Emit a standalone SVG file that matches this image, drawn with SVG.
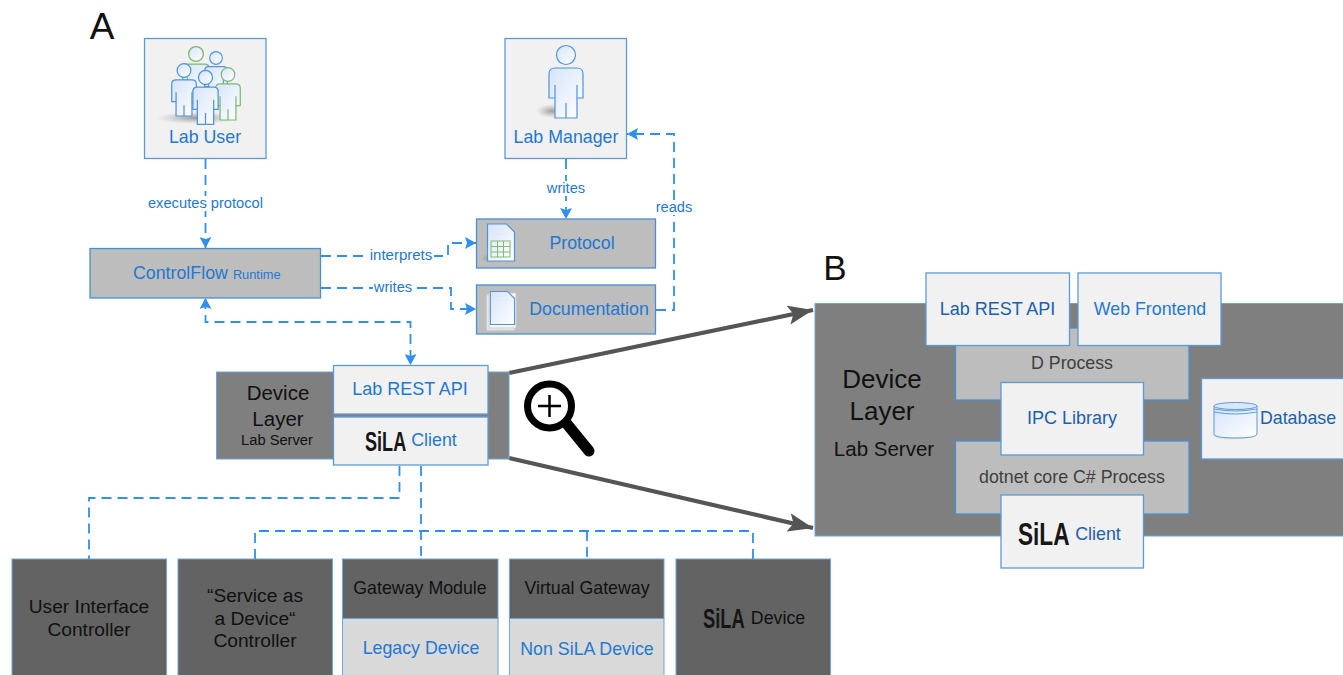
<svg xmlns="http://www.w3.org/2000/svg" width="1343" height="675" viewBox="0 0 1343 675">
<style>
text{font-family:"Liberation Sans",Arial,sans-serif;text-anchor:middle}
.lt{fill:#f1f1f1;stroke:#5b9bd5;stroke-width:1.3}
.mg{fill:#bdbdbd;stroke:#4a90d0;stroke-width:1.3}
.dk{fill:#7f7f7f;stroke:#6aa5de;stroke-width:1}
.ds{fill:#636363;stroke:#6aa5de;stroke-width:1}
.pl{fill:#d9d9d9;stroke:#6aa5de;stroke-width:1}
.b{fill:#1f78d1}.db{fill:#1a5fb0}.k{fill:#111}.g{fill:#3f3f3f}
.cl{fill:#fff;stroke:none}
.c{fill:none;stroke:#2f8fee;stroke-width:1.8;stroke-dasharray:10 6}
.z{fill:none;stroke:#555;stroke-width:4.2}
.sila{font-weight:700;fill:#161616;text-anchor:start}
.pb{fill:url(#pg);stroke:#4f94dc;stroke-width:1.7}
.pn{fill:url(#pg);stroke:#7cb870;stroke-width:1.7}
.pm{fill:url(#pg);stroke:#4f94dc;stroke-width:1.2}
</style>
<defs>
<linearGradient id="pg" x1="0" y1="0" x2="1" y2="1"><stop offset="0" stop-color="#d6e4fa"/><stop offset="1" stop-color="#fff"/></linearGradient>
<radialGradient id="sh"><stop offset="0" stop-color="#777" stop-opacity=".7"/><stop offset="1" stop-color="#999" stop-opacity="0"/></radialGradient>
<marker id="a" markerUnits="userSpaceOnUse" markerWidth="12" markerHeight="12" refX="11" refY="6" orient="auto"><path d="M0 0L11 6L0 12L2 6Z" fill="#2f8fee"/></marker>
<marker id="as" markerUnits="userSpaceOnUse" markerWidth="12" markerHeight="12" refX="1" refY="6" orient="auto"><path d="M11 0L0 6L11 12L9 6Z" fill="#2f8fee"/></marker>
<marker id="z" markerUnits="userSpaceOnUse" markerWidth="26" markerHeight="20" refX="25" refY="10" orient="auto"><path d="M0 0.500L25 10L0 19.500L5 10Z" fill="#555"/></marker>
<symbol id="person" viewBox="0 0 36 74" overflow="visible"><circle cx="18" cy="10" r="9.500"/><path d="M7 23H29Q35 23 35 29V53H29V73H7V53H1V29Q1 23 7 23Z"/><path d="M7 40V53M29 40V53M18 58V73" fill="none"/></symbol>
<symbol id="doc" viewBox="0 0 28 38" overflow="visible"><path d="M1 1H20L28 9V38H1Z" fill="url(#pg)" stroke="#4f94dc" stroke-width="1.2"/><path d="M5 7H16M5 11H20" stroke="#dfe8f5" fill="none"/></symbol>
</defs>
<rect width="1343" height="675" fill="#fff"/>

<text x="102" y="39" font-size="37" class="k">A</text>
<text x="835" y="280" font-size="35" class="k">B</text>

<g id="connectors">
<path class="c" d="M205.500 159V248" marker-end="url(#a)"/>
<path class="c" d="M566 159V219" marker-end="url(#a)"/>
<path class="c" d="M321 256H448V243H476" marker-end="url(#a)"/>
<path class="c" d="M321 288H451V309H476" marker-end="url(#a)"/>
<path class="c" d="M656 310H674V134H627" marker-end="url(#a)"/>
<path class="c" d="M205.500 299V322H410.500V365" marker-start="url(#as)" marker-end="url(#a)"/>
<path class="c" d="M399.500 466V498H89V559"/>
<path class="c" d="M421 466V559"/>
<path class="c" d="M255 559V531H753V559"/>
<path class="c" d="M587 531V559"/>
<path class="z" d="M509 373L813 310" marker-end="url(#z)"/>
<path class="z" d="M509 458L813 528" marker-end="url(#z)"/>
</g>

<rect class="cl" x="146" y="196" width="119" height="15"/>
<text x="205.500" y="208" font-size="14.700" class="b">executes protocol</text>
<rect class="cl" x="545" y="181" width="42" height="15"/>
<text x="566" y="193" font-size="14.700" class="b">writes</text>
<rect class="cl" x="655" y="200" width="38" height="15"/>
<text x="674" y="212" font-size="14.700" class="b">reads</text>
<rect class="cl" x="369" y="248" width="65" height="15"/>
<text x="401" y="260" font-size="15" class="b">interprets</text>
<rect class="cl" x="373" y="280" width="40" height="15"/>
<text x="393" y="292" font-size="14.700" class="b">writes</text>

<g id="lab-user">
<rect class="lt" x="144.500" y="38.500" width="121.500" height="120"/>
<ellipse cx="196" cy="118" rx="40" ry="6" fill="url(#sh)"/>
<use href="#person" class="pn" x="182" y="46" width="28" height="58"/>
<use href="#person" class="pb" x="204" y="51" width="24" height="50"/>
<use href="#person" class="pn" x="215" y="67" width="26" height="54"/>
<use href="#person" class="pb" x="171" y="63" width="26" height="54"/>
<use href="#person" class="pb" x="192" y="70" width="27" height="55"/>
<text x="205" y="143" font-size="17.800" class="b">Lab User</text>
</g>

<g id="lab-manager">
<rect class="lt" x="505" y="38.500" width="121.500" height="120"/>
<ellipse cx="552" cy="111" rx="16" ry="7" fill="url(#sh)"/>
<use href="#person" class="pm" x="548" y="45" width="36" height="74"/>
<text x="566" y="143" font-size="17.800" class="b">Lab Manager</text>
</g>

<g id="protocol">
<rect class="mg" x="476.500" y="219" width="179" height="49"/>
<ellipse cx="490" cy="258" rx="9" ry="5" fill="url(#sh)"/>
<use href="#doc" x="486.500" y="223" width="28" height="38"/>
<g fill="none" stroke="#84b96e" stroke-width="1"><rect x="491" y="241" width="19" height="16"/><path d="M491 246.500H510M491 252H510M497.500 241V257M503.500 241V257"/></g>
<text x="582" y="249" font-size="17.800" class="b">Protocol</text>
</g>

<g id="documentation">
<rect class="mg" x="476.500" y="285" width="179" height="49"/>
<rect x="487" y="295" width="27" height="35" fill="#eee" stroke="#ddd"/>
<rect x="489" y="293" width="27" height="35" fill="#f6f6f6" stroke="#ccc"/>
<use href="#doc" x="489.500" y="290" width="25" height="35"/>
<text x="589" y="315" font-size="17.800" class="b">Documentation</text>
</g>

<g id="controlflow">
<rect class="mg" x="90" y="248.500" width="230.500" height="49.500"/>
<text x="133" y="279" font-size="17.800" class="b" style="text-anchor:start">ControlFlow<tspan font-size="12.800" dx="5">Runtime</tspan></text>
</g>

<g id="device-layer-a">
<rect class="dk" x="216.500" y="372" width="292.500" height="87"/>
<text x="278" y="400" font-size="20.500" class="k">Device</text>
<text x="278" y="426" font-size="20.500" class="k">Layer</text>
<text x="277" y="445" font-size="14.700" class="k">Lab Server</text>
</g>
<g id="lab-rest-api-a">
<rect class="lt" x="333.500" y="365.500" width="154.500" height="48.500"/>
<text x="410" y="395" font-size="18" class="b">Lab REST API</text>
</g>
<g id="sila-client-a">
<rect class="lt" x="333.500" y="417" width="154.500" height="48"/>
<text transform="translate(365 451) scale(.67 1)" font-size="27" class="sila">SiLA</text>
<text x="434" y="446" font-size="17.800" class="b">Client</text>
</g>

<g id="magnifier" fill="none" stroke="#000">
<circle cx="549.500" cy="406" r="22" stroke-width="7"/>
<path d="M538 406H561M549.500 395V417" stroke-width="2.500"/>
<path d="M567 424L589 451" stroke-width="11" stroke-linecap="round"/>
</g>

<g id="device-layer-b">
<rect class="dk" x="815" y="303.500" width="529" height="232.500"/>
<text x="882" y="388" font-size="26" class="k">Device</text>
<text x="882" y="420" font-size="26" class="k">Layer</text>
<text x="884" y="456" font-size="20.500" class="k">Lab Server</text>
</g>
<g id="d-process">
<rect class="mg" x="955.500" y="328" width="233.500" height="72"/>
<text x="1072" y="369" font-size="17.800" class="g">D Process</text>
</g>
<g id="dotnet-process">
<rect class="mg" x="955.500" y="441" width="233.500" height="73"/>
<text x="1072" y="483" font-size="17.800" class="g">dotnet core C# Process</text>
</g>
<g id="lab-rest-api-b">
<rect class="lt" x="926" y="273" width="143.500" height="72.500"/>
<text x="997.500" y="315" font-size="18" class="db">Lab REST API</text>
</g>
<g id="web-frontend">
<rect class="lt" x="1078" y="273" width="143" height="72.500"/>
<text x="1150" y="315" font-size="17.800" class="b">Web Frontend</text>
</g>
<g id="ipc-library">
<rect class="lt" x="1001" y="382.500" width="142.500" height="72.500"/>
<text x="1072" y="424" font-size="18" class="db">IPC Library</text>
</g>
<g id="sila-client-b">
<rect class="lt" x="1001" y="495" width="142.500" height="73"/>
<text transform="translate(1018 545) scale(.73 1)" font-size="31" class="sila">SiLA</text>
<text x="1098" y="540" font-size="17.800" class="db">Client</text>
</g>
<g id="database">
<rect class="lt" x="1201.500" y="378.500" width="142.500" height="80.500"/>
<ellipse cx="1232" cy="435" rx="22" ry="5" fill="url(#sh)"/>
<path d="M1214 406V434Q1214 438 1235.500 438Q1257 438 1257 434V406Z" fill="url(#pg)" stroke="#5b9bd5"/>
<ellipse cx="1235.500" cy="406" rx="21.500" ry="3.500" fill="#dce8fa" stroke="#5b9bd5"/>
<path d="M1214 409Q1235.500 413 1257 409M1214 412Q1235.500 416 1257 412" fill="none" stroke="#5b9bd5"/>
<text x="1298" y="424" font-size="17.800" class="db">Database</text>
</g>

<g id="user-interface-controller">
<rect class="ds" x="12" y="559" width="154.500" height="120"/>
<text x="89" y="613" font-size="19.200" class="k">User Interface</text>
<text x="89" y="636" font-size="19.200" class="k">Controller</text>
</g>
<g id="service-controller">
<rect class="ds" x="178" y="559" width="154.500" height="120"/>
<text x="255" y="602" font-size="19.200" class="k">“Service as</text>
<text x="255" y="625" font-size="19.200" class="k">a Device“</text>
<text x="255" y="647" font-size="19.200" class="k">Controller</text>
</g>
<g id="gateway-module">
<rect class="pl" x="342.500" y="618.500" width="155.500" height="60"/>
<rect class="ds" x="342.500" y="559" width="155.500" height="59.500"/>
<text x="420" y="594" font-size="17.800" class="k">Gateway Module</text>
<text x="421" y="654" font-size="17.800" class="b">Legacy Device</text>
</g>
<g id="virtual-gateway">
<rect class="pl" x="509.500" y="618.500" width="154.500" height="60"/>
<rect class="ds" x="509.500" y="559" width="154.500" height="59.500"/>
<text x="587" y="594" font-size="17.800" class="k">Virtual Gateway</text>
<text x="587" y="655" font-size="17.800" class="b">Non SiLA Device</text>
</g>
<g id="sila-device">
<rect class="ds" x="676" y="559" width="154.500" height="120"/>
<text transform="translate(703 628) scale(.68 1)" font-size="27" class="sila">SiLA</text>
<text x="778" y="624" font-size="17.800" class="k">Device</text>
</g>
</svg>
